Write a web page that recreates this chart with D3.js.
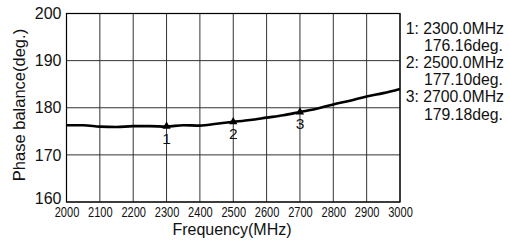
<!DOCTYPE html>
<html>
<head>
<meta charset="utf-8">
<script src="https://cdn.jsdelivr.net/npm/d3@7"></script>
<style>
  body { margin: 0; background: #fff; }
  text { font-family: "Liberation Sans", Arial, sans-serif; fill: #111; }
</style>
</head>
<body>
<svg id="chart" width="510" height="242"></svg>
<script>
// measured trace, 50 MHz steps
const freqs = [2000, 2050, 2100, 2150, 2200, 2250, 2300, 2350, 2400, 2450, 2500,
  2550, 2600, 2650, 2700, 2750, 2800, 2850, 2900, 2950, 3000];
const phase = [176.3, 176.3, 176.0, 175.9, 176.1, 176.1, 176.0, 176.3, 176.2, 176.6, 177.0,
  177.4, 177.9, 178.4, 179.1, 179.8, 180.7, 181.5, 182.4, 183.1, 184.0];

const markerIds = ['1', '2', '3'];
const markerFreqs = [2300, 2500, 2700];
const markerVals = [176.16, 177.10, 179.18];

const xTicks = [2000, 2100, 2200, 2300, 2400, 2500, 2600, 2700, 2800, 2900, 3000];
const yTicks = [160, 170, 180, 190, 200];

const svg = d3.select('#chart');
const plotL = 66.5, plotR = 400, plotT = 13.5, plotB = 202;

const x = d3.scaleLinear().domain([2000, 3000]).range([plotL, plotR]);
const y = d3.scaleLinear().domain([160, 200]).range([plotB, plotT]);

// grid
svg.append('g')
  .selectAll('line')
  .data(xTicks)
  .enter()
  .append('line')
  .attr('x1', d => x(d)).attr('x2', d => x(d))
  .attr('y1', plotT).attr('y2', plotB)
  .attr('stroke', '#333').attr('stroke-width', 1);

svg.append('g')
  .selectAll('line')
  .data(yTicks)
  .enter()
  .append('line')
  .attr('x1', plotL).attr('x2', plotR)
  .attr('y1', d => y(d)).attr('y2', d => y(d))
  .attr('stroke', '#333').attr('stroke-width', 1);

svg.append('rect')
  .attr('x', plotL).attr('y', plotT)
  .attr('width', plotR - plotL).attr('height', plotB - plotT)
  .attr('fill', 'none').attr('stroke', '#000').attr('stroke-width', 1.2);

// axes labels (x labels are narrow, squeeze them horizontally)
const xAxis = svg.append('g')
  .attr('transform', 'translate(0,' + plotB + ')')
  .call(d3.axisBottom(x).tickValues(xTicks).tickSize(0).tickPadding(5).tickFormat(d3.format('d')));
xAxis.select('.domain').remove();
xAxis.selectAll('text')
  .style('font-size', '14px')
  .attr('transform', 'scale(0.79,1)')
  .attr('fill', '#111');

const yAxis = svg.append('g')
  .attr('transform', 'translate(' + plotL + ',0)')
  .call(d3.axisLeft(y).tickValues(yTicks).tickSize(0).tickPadding(5).tickFormat(d3.format('d')));
yAxis.select('.domain').remove();
yAxis.selectAll('text')
  .style('font-size', '16px')
  .attr('dy', d => d === 160 ? '0.1em' : '0.32em')
  .attr('fill', '#111');

svg.append('text')
  .attr('x', 232).attr('y', 234.5)
  .attr('text-anchor', 'middle')
  .style('font-size', '16px')
  .text('Frequency(MHz)');

svg.append('text')
  .attr('transform', 'translate(24.5,105) rotate(-90)')
  .attr('text-anchor', 'middle')
  .style('font-size', '16.5px')
  .text('Phase balance(deg.)');

// trace
const line = d3.line()
  .x((d, i) => x(freqs[i]))
  .y(d => y(d))
  .curve(d3.curveMonotoneX);

svg.append('path')
  .datum(phase)
  .attr('d', line)
  .attr('fill', 'none')
  .attr('stroke', '#000')
  .attr('stroke-width', 2.6);

// markers
const tri = d3.symbol().type(d3.symbolTriangle).size(30);
svg.selectAll('path.mk')
  .data(markerIds)
  .enter()
  .append('path')
  .attr('class', 'mk')
  .attr('d', tri)
  .attr('transform', (d, i) => 'translate(' + x(markerFreqs[i]) + ',' + (y(markerVals[i]) + 0.5) + ')')
  .attr('fill', '#000');

svg.selectAll('text.mk')
  .data(markerIds)
  .enter()
  .append('text')
  .attr('class', 'mk')
  .attr('x', (d, i) => x(markerFreqs[i]))
  .attr('y', (d, i) => y(markerVals[i]) + 17.7)
  .attr('text-anchor', 'middle')
  .style('font-size', '15.5px')
  .text(d => d);

// marker readout
const info = svg.append('g');
markerIds.forEach((id, i) => {
  info.append('text')
    .attr('x', 504).attr('y', 33.5 + i * 34.3)
    .attr('text-anchor', 'end')
    .style('font-size', '15.8px')
    .text(id + ': ' + markerFreqs[i].toFixed(1) + 'MHz');
  info.append('text')
    .attr('x', 503).attr('y', 51 + i * 34.3)
    .attr('text-anchor', 'end')
    .style('font-size', '15.8px')
    .text(markerVals[i].toFixed(2) + 'deg.');
});
</script>
</body>
</html>
